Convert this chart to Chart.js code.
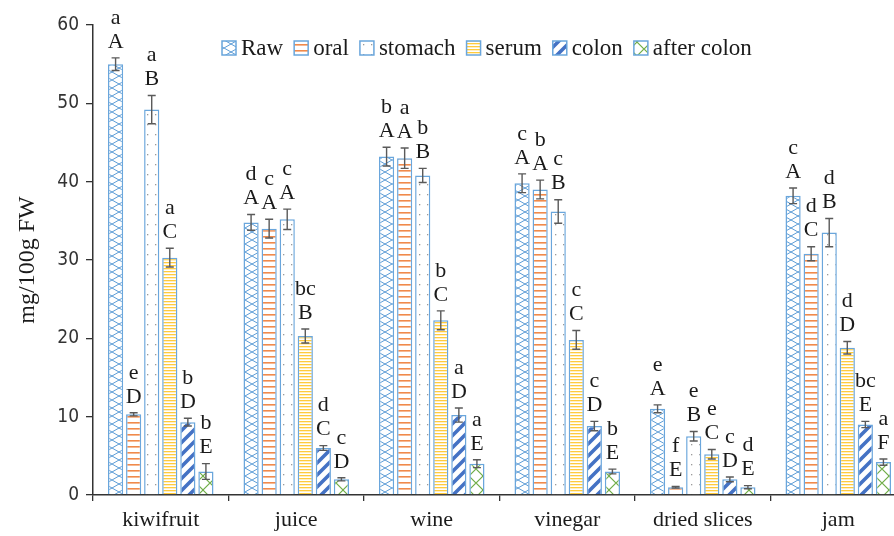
<!DOCTYPE html>
<html>
<head>
<meta charset="utf-8">
<script src="https://cdn.jsdelivr.net/npm/chart.js@4/dist/chart.umd.min.js"></script>
<style>
  html, body { margin: 0; padding: 0; background: #fff; overflow: hidden; }
  canvas { display: block; }
</style>
</head>
<body>
<canvas id="chart" width="906" height="536"></canvas>
<script>
// Products and digestion stages
const categories = ['kiwifruit', 'juice', 'wine', 'vinegar', 'dried slices', 'jam'];
const stageNames = ['Raw', 'oral', 'stomach', 'serum', 'colon', 'after colon'];

// Means (mg/100g FW) per stage, one entry per product
const rawValues     = [55.0, 34.8, 43.2, 39.8, 11.0, 38.2];
const oralValues    = [10.3, 34.0, 43.0, 39.0, 1.0, 30.8];
const stomachValues = [49.2, 35.2, 40.8, 36.2, 7.5, 33.5];
const serumValues   = [30.3, 20.3, 22.3, 19.8, 5.2, 18.8];
const colonValues   = [9.3, 6.0, 10.2, 8.8, 2.0, 9.0];
const afterValues   = [3.0, 2.0, 4.0, 3.0, 1.0, 4.2];

// Standard deviations
const rawErr     = [0.8, 1.0, 1.2, 1.2, 0.5, 1.0];
const oralErr    = [0.2, 1.2, 1.3, 1.2, 0.1, 0.9];
const stomachErr = [1.8, 1.3, 0.9, 1.5, 0.6, 1.8];
const serumErr   = [1.2, 0.9, 1.2, 1.2, 0.6, 0.8];
const colonErr   = [0.5, 0.3, 0.9, 0.6, 0.3, 0.4];
const afterErr   = [1.0, 0.2, 0.5, 0.3, 0.2, 0.4];

// Significance letters: lowercase (between products), uppercase (between stages)
const rawLower     = ['a', 'd', 'b', 'c', 'e', 'c'];
const rawUpper     = ['A', 'A', 'A', 'A', 'A', 'A'];
const oralLower    = ['e', 'c', 'a', 'b', 'f', 'd'];
const oralUpper    = ['D', 'A', 'A', 'A', 'E', 'C'];
const stomachLower = ['a', 'c', 'b', 'c', 'e', 'd'];
const stomachUpper = ['B', 'A', 'B', 'B', 'B', 'B'];
const serumLower   = ['a', 'bc', 'b', 'c', 'e', 'd'];
const serumUpper   = ['C', 'B', 'C', 'C', 'C', 'D'];
const colonLower   = ['b', 'd', 'a', 'c', 'c', 'bc'];
const colonUpper   = ['D', 'C', 'D', 'D', 'D', 'E'];
const afterLower   = ['b', 'c', 'a', 'b', 'd', 'a'];
const afterUpper   = ['E', 'D', 'E', 'E', 'E', 'F'];

const yTicks = [0, 10, 20, 30, 40, 50, 60];

const SERIF = '"Liberation Serif", "Times New Roman", serif';
const BORDER = '#6AA6DC';

// ---- hatch fills -------------------------------------------------------
function tile(w, h, paint) {
  const c = document.createElement('canvas');
  c.width = w; c.height = h;
  const g = c.getContext('2d');
  paint(g, w, h);
  return document.getElementById('chart').getContext('2d').createPattern(c, 'repeat');
}
function whiteBg(g, w, h) { g.fillStyle = '#fff'; g.fillRect(0, 0, w, h); }

const fills = [
  // Raw: blue zigzag lattice
  tile(14, 16, (g, w, h) => {
    whiteBg(g, w, h);
    g.strokeStyle = '#5B9BD5'; g.lineWidth = 1;
    g.beginPath();
    g.moveTo(0, 0); g.lineTo(w, h / 2); g.lineTo(0, h);
    g.moveTo(w, 0); g.lineTo(0, h / 2); g.lineTo(w, h);
    g.stroke();
  }),
  // oral: orange horizontal lines
  tile(4, 6, (g, w, h) => {
    whiteBg(g, w, h);
    g.fillStyle = '#F08A4B'; g.fillRect(0, 2, w, 1.6);
  }),
  // stomach: sparse grey dots
  tile(8, 10, (g, w, h) => {
    whiteBg(g, w, h);
    g.fillStyle = '#9A9A9A'; g.fillRect(3, 4, 1.3, 1.3);
  }),
  // serum: dense yellow lines
  tile(4, 3, (g, w, h) => {
    whiteBg(g, w, h);
    g.fillStyle = '#FFCB3D'; g.fillRect(0, 1, w, 1.3);
  }),
  // colon: wide blue diagonals
  tile(12, 12, (g, w, h) => {
    whiteBg(g, w, h);
    g.strokeStyle = '#4472C4'; g.lineWidth = 3.6;
    g.beginPath();
    g.moveTo(-2, h + 2); g.lineTo(w + 2, -2);
    g.moveTo(-2, 2); g.lineTo(2, -2);
    g.moveTo(w - 2, h + 2); g.lineTo(w + 2, h - 2);
    g.stroke();
  }),
  // after colon: green zigzag
  tile(14, 14, (g, w, h) => {
    whiteBg(g, w, h);
    g.strokeStyle = '#70AD47'; g.lineWidth = 1.1;
    g.beginPath();
    g.moveTo(0, h / 2); g.lineTo(w / 2, 0); g.lineTo(w, h / 2);
    g.moveTo(0, h / 2); g.lineTo(w / 2, h); g.lineTo(w, h / 2);
    g.stroke();
  })
];

const seriesValues = [rawValues, oralValues, stomachValues, serumValues, colonValues, afterValues];
const seriesErr = [rawErr, oralErr, stomachErr, serumErr, colonErr, afterErr];
const seriesLower = [rawLower, oralLower, stomachLower, serumLower, colonLower, afterLower];
const seriesUpper = [rawUpper, oralUpper, stomachUpper, serumUpper, colonUpper, afterUpper];

const datasets = stageNames.map((name, i) => ({
  label: name,
  data: seriesValues[i],
  errors: seriesErr[i],
  lower: seriesLower[i],
  upper: seriesUpper[i],
  backgroundColor: fills[i],
  borderColor: BORDER,
  borderWidth: 1.5,
  categoryPercentage: 0.8,
  barPercentage: 0.84
}));

// Error bars with significance letters on top of each bar
const errorLetters = {
  id: 'errorLetters',
  afterDatasetsDraw(chart) {
    const ctx = chart.ctx;
    const y = chart.scales.y;
    ctx.save();
    chart.data.datasets.forEach((ds, di) => {
      const meta = chart.getDatasetMeta(di);
      meta.data.forEach((bar, i) => {
        const v = ds.data[i], e = ds.errors[i];
        const top = y.getPixelForValue(v + e);
        const bot = y.getPixelForValue(v - e);
        const x = bar.x;
        ctx.strokeStyle = '#5A5A5A';
        ctx.lineWidth = 1.4;
        ctx.beginPath();
        ctx.moveTo(x, top); ctx.lineTo(x, bot);
        ctx.moveTo(x - 4, top); ctx.lineTo(x + 4, top);
        ctx.moveTo(x - 4, bot); ctx.lineTo(x + 4, bot);
        ctx.stroke();

        ctx.fillStyle = '#1a1a1a';
        ctx.font = '22px ' + SERIF;
        ctx.textAlign = 'center';
        ctx.textBaseline = 'middle';
        const upY = top - 16;
        ctx.fillText(ds.upper[i], x, upY);
        ctx.fillText(ds.lower[i], x, upY - 24);
      });
    });
    ctx.restore();
  }
};

// Legend row drawn over the plot area
const hatchLegend = {
  id: 'hatchLegend',
  afterDraw(chart) {
    const ctx = chart.ctx;
    ctx.save();
    ctx.font = '23px ' + SERIF;
    ctx.textBaseline = 'middle';
    ctx.textAlign = 'left';
    let x = 222;
    const cy = 48;
    chart.data.datasets.forEach((ds) => {
      ctx.fillStyle = ds.backgroundColor;
      ctx.fillRect(x, cy - 7, 14, 14);
      ctx.strokeStyle = BORDER;
      ctx.lineWidth = 1.5;
      ctx.strokeRect(x, cy - 7, 14, 14);
      ctx.fillStyle = '#1a1a1a';
      ctx.fillText(ds.label, x + 19, cy + 1);
      x += 19 + ctx.measureText(ds.label).width + 11;
    });
    ctx.restore();
  }
};

new Chart(document.getElementById('chart'), {
  type: 'bar',
  data: { labels: categories, datasets },
  options: {
    responsive: false,
    animation: false,
    devicePixelRatio: 1,
    layout: { padding: { top: 25, right: 0, left: 0, bottom: 0 } },
    plugins: {
      legend: { display: false },
      tooltip: { enabled: false }
    },
    scales: {
      x: {
        grid: {
          display: true,
          offset: true,
          drawOnChartArea: false,
          drawTicks: true,
          tickLength: 6,
          color: '#333',
          lineWidth: 1.3
        },
        border: { display: true, color: '#333', width: 1.5 },
        ticks: {
          color: '#1a1a1a',
          font: { family: SERIF, size: 22 },
          padding: 6,
          maxRotation: 0
        },
        afterFit(scale) { scale.height = 41; }
      },
      y: {
        min: 0,
        max: 60,
        afterBuildTicks(scale) { scale.ticks = yTicks.map(v => ({ value: v })); },
        grid: {
          display: true,
          drawOnChartArea: false,
          drawTicks: true,
          tickLength: 7,
          color: '#333',
          lineWidth: 1.3
        },
        border: { display: true, color: '#333', width: 1.5 },
        ticks: {
          color: '#333',
          font: { family: '"DejaVu Sans Condensed", "Liberation Sans", sans-serif', size: 19 },
          padding: 7
        },
        title: {
          display: true,
          text: 'mg/100g FW',
          color: '#1a1a1a',
          font: { family: SERIF, size: 24 },
          padding: { top: 13, bottom: 0 }
        },
        afterFit(scale) { scale.width = 93; }
      }
    }
  },
  plugins: [errorLetters, hatchLegend]
});
</script>
</body>
</html>
